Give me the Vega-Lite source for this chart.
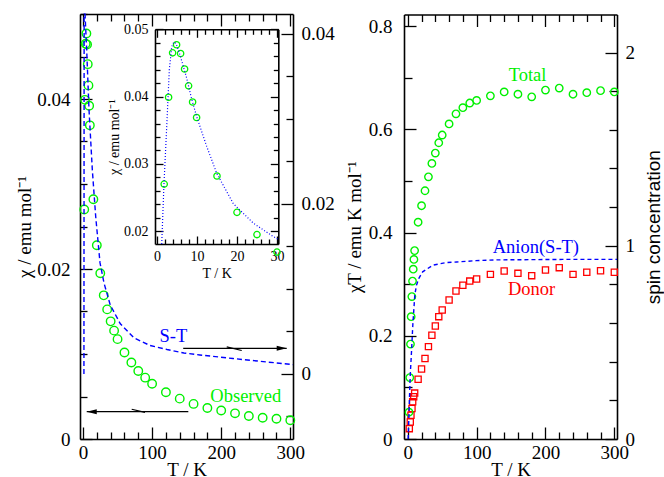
{
  "$schema": "https://vega.github.io/schema/vega-lite/v6.json",
  "width": 664,
  "height": 477,
  "autosize": "none",
  "padding": 0,
  "background": "white",
  "config": {
    "view": {"stroke": null},
    "axis": {
      "domainColor": "black", "domainWidth": 1.6, "tickColor": "black", "tickWidth": 1.3,
      "grid": false, "labelFont": "Liberation Serif", "labelFontSize": 19, "labelColor": "black",
      "titleFont": "Liberation Serif", "titleFontSize": 19, "titleFontWeight": "normal", "titleColor": "black",
      "labelFlush": false, "labelOverlap": false, "labelBound": false
    }
  },
  "datasets": {
    "obs": [
      {"T": 1.8, "v": 0.0270}, {"T": 2.9, "v": 0.0399}, {"T": 3.9, "v": 0.0465}, {"T": 4.9, "v": 0.0477},
      {"T": 5.9, "v": 0.0464}, {"T": 6.9, "v": 0.0441}, {"T": 7.9, "v": 0.0416}, {"T": 8.9, "v": 0.0392},
      {"T": 9.9, "v": 0.0369}, {"T": 15, "v": 0.0282}, {"T": 20, "v": 0.0228}, {"T": 25, "v": 0.0195},
      {"T": 30, "v": 0.0169}, {"T": 35, "v": 0.01525}, {"T": 40, "v": 0.01384}, {"T": 45, "v": 0.01275},
      {"T": 50, "v": 0.01175}, {"T": 60, "v": 0.01017}, {"T": 70, "v": 0.0090}, {"T": 80, "v": 0.0080},
      {"T": 90, "v": 0.00722}, {"T": 100, "v": 0.0065}, {"T": 120, "v": 0.0055}, {"T": 140, "v": 0.00475},
      {"T": 160, "v": 0.00413}, {"T": 180, "v": 0.00365}, {"T": 200, "v": 0.00335}, {"T": 220, "v": 0.00302},
      {"T": 240, "v": 0.0027}, {"T": 260, "v": 0.0025}, {"T": 280, "v": 0.00238}, {"T": 300, "v": 0.0022}
    ],
    "st": [
      {"seg": "a", "T": 1.35, "v": 0.0}, {"seg": "a", "T": 1.5, "v": 0.02}, {"seg": "a", "T": 1.65, "v": 0.0424},
      {"seg": "b", "T": 2.9, "v": 0.0424}, {"seg": "b", "T": 5.35, "v": 0.0381}, {"seg": "b", "T": 8.7, "v": 0.0311},
      {"seg": "b", "T": 13.5, "v": 0.0240}, {"seg": "b", "T": 18.4, "v": 0.0185}, {"seg": "b", "T": 24.6, "v": 0.0131},
      {"seg": "b", "T": 30.4, "v": 0.0107}, {"seg": "b", "T": 39.5, "v": 0.0081}, {"seg": "b", "T": 54, "v": 0.0059},
      {"seg": "b", "T": 73.8, "v": 0.00424}, {"seg": "b", "T": 97, "v": 0.00335}, {"seg": "b", "T": 121.6, "v": 0.00288},
      {"seg": "b", "T": 146, "v": 0.00247}, {"seg": "b", "T": 169, "v": 0.00224}, {"seg": "b", "T": 217, "v": 0.00182},
      {"seg": "b", "T": 266, "v": 0.00141}, {"seg": "b", "T": 299.6, "v": 0.00114}, {"seg": "b", "T": 303.9, "v": 0.0011}
    ],
    "fit": [
      {"T": 1.18, "v": 0.0181}, {"T": 1.75, "v": 0.0271}, {"T": 2.43, "v": 0.0355}, {"T": 3.08, "v": 0.0440},
      {"T": 3.68, "v": 0.0474}, {"T": 4.2, "v": 0.0481}, {"T": 4.75, "v": 0.0479}, {"T": 5.75, "v": 0.0462},
      {"T": 7.4, "v": 0.0428}, {"T": 8.6, "v": 0.0398}, {"T": 9.93, "v": 0.0370}, {"T": 12.43, "v": 0.0326},
      {"T": 14.93, "v": 0.0286}, {"T": 19.08, "v": 0.0241}, {"T": 24.08, "v": 0.0212}, {"T": 29.08, "v": 0.0192},
      {"T": 30.3, "v": 0.0188}
    ],
    "total": [
      {"T": 1.8, "v": 0.052}, {"T": 2.9, "v": 0.119}, {"T": 3.9, "v": 0.184}, {"T": 4.9, "v": 0.237},
      {"T": 5.9, "v": 0.276}, {"T": 6.9, "v": 0.306}, {"T": 7.9, "v": 0.329}, {"T": 8.9, "v": 0.348},
      {"T": 9.9, "v": 0.365}, {"T": 15, "v": 0.420}, {"T": 20, "v": 0.452}, {"T": 25, "v": 0.481},
      {"T": 30, "v": 0.508}, {"T": 35, "v": 0.534}, {"T": 40, "v": 0.554}, {"T": 45, "v": 0.574},
      {"T": 50, "v": 0.589}, {"T": 60, "v": 0.6105}, {"T": 70, "v": 0.630}, {"T": 80, "v": 0.642},
      {"T": 90, "v": 0.651}, {"T": 100, "v": 0.656}, {"T": 120, "v": 0.665}, {"T": 140, "v": 0.6725},
      {"T": 160, "v": 0.668}, {"T": 180, "v": 0.663}, {"T": 200, "v": 0.676}, {"T": 220, "v": 0.680},
      {"T": 240, "v": 0.668}, {"T": 260, "v": 0.671}, {"T": 280, "v": 0.675}, {"T": 300, "v": 0.6725}
    ],
    "donor": [
      {"T": 2.2, "v": 0.020}, {"T": 3.6, "v": 0.033}, {"T": 4.6, "v": 0.046}, {"T": 6.1, "v": 0.059},
      {"T": 7.1, "v": 0.072}, {"T": 8.6, "v": 0.082}, {"T": 10.0, "v": 0.089}, {"T": 15, "v": 0.1157},
      {"T": 20, "v": 0.1357}, {"T": 25, "v": 0.156}, {"T": 30, "v": 0.179}, {"T": 35, "v": 0.201},
      {"T": 40, "v": 0.219}, {"T": 45, "v": 0.237}, {"T": 50, "v": 0.250}, {"T": 60, "v": 0.2694},
      {"T": 70, "v": 0.2868}, {"T": 80, "v": 0.298}, {"T": 90, "v": 0.306}, {"T": 100, "v": 0.310},
      {"T": 120, "v": 0.319}, {"T": 140, "v": 0.3256}, {"T": 160, "v": 0.321}, {"T": 180, "v": 0.3165},
      {"T": 200, "v": 0.3275}, {"T": 220, "v": 0.332}, {"T": 240, "v": 0.319}, {"T": 260, "v": 0.323},
      {"T": 280, "v": 0.326}, {"T": 300, "v": 0.323}
    ],
    "anion": [
      {"T": 0.5, "v": 0.0}, {"T": 1.5, "v": 0.1}, {"T": 2.5, "v": 0.22}, {"T": 3.7, "v": 0.34},
      {"T": 5.1, "v": 0.43}, {"T": 7.3, "v": 0.59}, {"T": 10.2, "v": 0.745}, {"T": 12.6, "v": 0.796},
      {"T": 16.3, "v": 0.833}, {"T": 21.6, "v": 0.865}, {"T": 27.5, "v": 0.879}, {"T": 36.6, "v": 0.900},
      {"T": 55.5, "v": 0.913}, {"T": 71, "v": 0.916}, {"T": 99, "v": 0.923}, {"T": 129, "v": 0.927},
      {"T": 225, "v": 0.9295}, {"T": 303.9, "v": 0.9295}
    ]
  },
  "layer": [
    {
      "encoding": {
        "x": {"field": "T", "type": "quantitative",
          "scale": {"domain": [-4.34, 303.9], "range": [80, 293], "nice": false, "zero": false},
          "axis": {"orient": "bottom", "offset": -38,
            "values": [0,20,40,60,80,100,120,140,160,180,200,220,240,260,280,300],
            "labelExpr": "datum.value % 100 === 0 ? format(datum.value, 'd') : ''",
            "tickSize": {"condition": {"test": "datum.value % 100 === 0", "value": -12}, "value": -7},
            "labelPadding": 16, "title": "T / K", "titlePadding": -7}},
        "y": {"field": "v", "type": "quantitative",
          "scale": {"domain": [0, 0.05], "range": [439, 14], "nice": false, "zero": false},
          "axis": {"orient": "left", "offset": -80,
            "values": [0,0.005,0.01,0.015,0.02,0.025,0.03,0.035,0.04,0.045,0.05],
            "labelExpr": "abs(datum.value*50 - round(datum.value*50)) < 1e-6 ? (abs(datum.value) < 1e-9 ? '0' : format(datum.value, '.2f')) : ''",
            "tickSize": {"condition": {"test": "abs(datum.value*50 - round(datum.value*50)) < 1e-6", "value": -12}, "value": -7},
            "labelPadding": 22, "title": "χ / emu mol⁻¹", "titlePadding": 2}}
      },
      "layer": [
        {"data": {"name": "obs"}, "mark": {"type": "point", "shape": "circle", "filled": false, "size": 72, "color": "#00f000", "strokeWidth": 1.4, "opacity": 1}},
        {"data": {"values": [{"T": 235.6, "v": 0.00439, "label": "Observed"}]},
          "mark": {"type": "text", "font": "Liberation Serif", "fontSize": 18.5, "color": "#00f000", "align": "center", "baseline": "alphabetic"},
          "encoding": {"text": {"field": "label"}}},
        {"data": {"values": [{"T": 5.4, "v": 0.00321, "T2": 152.4, "v2": 0.00321}, {"T": 70.5, "v": 0.0035, "T2": 89.7, "v2": 0.00314}]},
          "mark": {"type": "rule", "color": "black", "strokeWidth": 1.2},
          "encoding": {"x2": {"field": "T2"}, "y2": {"field": "v2"}}},
        {"data": {"values": [{"T": 5.4, "v": 0.00321}]},
          "mark": {"type": "point", "shape": "M0,0L2,-0.5L2,0.5Z", "filled": true, "color": "black", "size": 100, "opacity": 1}}
      ]
    },
    {
      "encoding": {
        "x": {"field": "T", "type": "quantitative",
          "scale": {"domain": [-4.34, 303.9], "range": [80, 293], "nice": false, "zero": false},
          "axis": {"orient": "top", "offset": -14, "labels": false,
            "values": [0,20,40,60,80,100,120,140,160,180,200,220,240,260,280,300],
            "tickSize": {"condition": {"test": "datum.value % 100 === 0", "value": -12}, "value": -7},
            "title": null}},
        "y": {"field": "v", "type": "quantitative",
          "scale": {"domain": [-0.00765, 0.04235], "range": [439, 14], "nice": false, "zero": false},
          "axis": {"orient": "right", "offset": -371,
            "values": [-0.005,0,0.005,0.01,0.015,0.02,0.025,0.03,0.035,0.04],
            "labelExpr": "abs(datum.value*50 - round(datum.value*50)) < 1e-6 ? (abs(datum.value) < 1e-9 ? '0' : format(datum.value, '.2f')) : ''",
            "tickSize": {"condition": {"test": "abs(datum.value*50 - round(datum.value*50)) < 1e-6", "value": -12}, "value": -7},
            "labelPadding": 20, "title": null}}
      },
      "layer": [
        {"data": {"name": "st"}, "mark": {"type": "line", "color": "#0000ff", "strokeWidth": 1.4, "strokeDash": [5, 3]},
          "encoding": {"detail": {"field": "seg"}}},
        {"data": {"values": [{"T": 130.7, "v": 0.0038, "label": "S-T"}]},
          "mark": {"type": "text", "font": "Liberation Serif", "fontSize": 18.5, "color": "#0000ff", "align": "center", "baseline": "alphabetic"},
          "encoding": {"text": {"field": "label"}}},
        {"data": {"values": [{"T": 145, "v": 0.00302, "T2": 294.8, "v2": 0.00302}, {"T": 208, "v": 0.00318, "T2": 229.7, "v2": 0.00276}]},
          "mark": {"type": "rule", "color": "black", "strokeWidth": 1.2},
          "encoding": {"x2": {"field": "T2"}, "y2": {"field": "v2"}}},
        {"data": {"values": [{"T": 294.8, "v": 0.00302}]},
          "mark": {"type": "point", "shape": "M0,0L-2,-0.5L-2,0.5Z", "filled": true, "color": "black", "size": 100, "opacity": 1}}
      ]
    },
    {
      "data": {"name": "obs"},
      "transform": [{"filter": "datum.T <= 30"}],
      "mark": {"type": "point", "shape": "circle", "filled": false, "size": 40, "color": "#00f000", "strokeWidth": 1.3, "opacity": 1},
      "encoding": {
        "x": {"field": "T", "type": "quantitative",
          "scale": {"domain": [-0.5, 30.33], "range": [155, 278.3], "nice": false, "zero": false},
          "axis": {"orient": "bottom", "offset": -233,
            "values": [0,2,4,6,8,10,12,14,16,18,20,22,24,26,28,30],
            "labelExpr": "datum.value % 10 === 0 ? format(datum.value, 'd') : ''",
            "tickSize": {"condition": {"test": "datum.value % 10 === 0", "value": -8}, "value": -5},
            "labelPadding": 13, "labelFontSize": 14, "title": "T  /  K", "titleFontSize": 14, "titlePadding": 0}},
        "y": {"field": "v", "type": "quantitative",
          "scale": {"domain": [0.0181, 0.05], "range": [244, 29.3], "nice": false, "zero": false},
          "axis": {"orient": "left", "offset": -155,
            "values": [0.02,0.022,0.024,0.026,0.028,0.03,0.032,0.034,0.036,0.038,0.04,0.042,0.044,0.046,0.048,0.05],
            "labelExpr": "abs(datum.value*100 - round(datum.value*100)) < 1e-6 ? format(datum.value, '.2f') : ''",
            "tickSize": {"condition": {"test": "abs(datum.value*100 - round(datum.value*100)) < 1e-6", "value": -8}, "value": -5},
            "labelPadding": 15, "labelFontSize": 14, "title": "χ / emu mol⁻¹", "titleFontSize": 14, "titlePadding": 2}}
      }
    },
    {
      "data": {"name": "fit"},
      "mark": {"type": "line", "color": "#0000ff", "strokeWidth": 1.2, "strokeDash": [1, 2]},
      "encoding": {
        "x": {"field": "T", "type": "quantitative",
          "scale": {"domain": [-0.5, 30.33], "range": [155, 278.3], "nice": false, "zero": false},
          "axis": {"orient": "top", "offset": -29.3, "labels": false,
            "values": [0,2,4,6,8,10,12,14,16,18,20,22,24,26,28,30],
            "tickSize": {"condition": {"test": "datum.value % 10 === 0", "value": -8}, "value": -5},
            "title": null}},
        "y": {"field": "v", "type": "quantitative",
          "scale": {"domain": [0.0181, 0.05], "range": [244, 29.3], "nice": false, "zero": false},
          "axis": {"orient": "right", "offset": -385.7, "labels": false,
            "values": [0.02,0.022,0.024,0.026,0.028,0.03,0.032,0.034,0.036,0.038,0.04,0.042,0.044,0.046,0.048,0.05],
            "tickSize": {"condition": {"test": "abs(datum.value*100 - round(datum.value*100)) < 1e-6", "value": -8}, "value": -5},
            "title": null}}
      }
    },
    {
      "encoding": {
        "x": {"field": "T", "type": "quantitative",
          "scale": {"domain": [-5.5, 303.9], "range": [404, 617], "nice": false, "zero": false},
          "axis": {"orient": "bottom", "offset": -38,
            "values": [0,20,40,60,80,100,120,140,160,180,200,220,240,260,280,300],
            "labelExpr": "datum.value % 100 === 0 ? format(datum.value, 'd') : ''",
            "tickSize": {"condition": {"test": "datum.value % 100 === 0", "value": -12}, "value": -7},
            "labelPadding": 16, "title": "T / K", "titlePadding": -7}},
        "y": {"field": "v", "type": "quantitative",
          "scale": {"domain": [0, 0.8225], "range": [439, 14.5], "nice": false, "zero": false},
          "axis": {"orient": "left", "offset": -404,
            "values": [0,0.1,0.2,0.3,0.4,0.5,0.6,0.7,0.8],
            "labelExpr": "abs(datum.value*5 - round(datum.value*5)) < 1e-6 ? (datum.value < 1e-9 ? '0' : format(datum.value, '.1f')) : ''",
            "tickSize": {"condition": {"test": "abs(datum.value*5 - round(datum.value*5)) < 1e-6", "value": -12}, "value": -8},
            "labelPadding": 24, "title": "χT / emu K mol⁻¹", "titlePadding": 4}}
      },
      "layer": [
        {"data": {"name": "donor"}, "mark": {"type": "point", "shape": "square", "filled": false, "size": 38, "color": "#ff0000", "strokeWidth": 1.3, "opacity": 1}},
        {"data": {"name": "total"}, "mark": {"type": "point", "shape": "circle", "filled": false, "size": 55, "color": "#00f000", "strokeWidth": 1.4, "opacity": 1}},
        {"data": {"values": [{"T": 173.9, "v": 0.6944, "label": "Total"}]},
          "mark": {"type": "text", "font": "Liberation Serif", "fontSize": 18.5, "color": "#00f000", "align": "center", "baseline": "alphabetic"},
          "encoding": {"text": {"field": "label"}}},
        {"data": {"values": [{"T": 179.9, "v": 0.279, "label": "Donor"}]},
          "mark": {"type": "text", "font": "Liberation Serif", "fontSize": 18.5, "color": "#ff0000", "align": "center", "baseline": "alphabetic"},
          "encoding": {"text": {"field": "label"}}}
      ]
    },
    {
      "encoding": {
        "x": {"field": "T", "type": "quantitative",
          "scale": {"domain": [-5.5, 303.9], "range": [404, 617], "nice": false, "zero": false},
          "axis": {"orient": "top", "offset": -14.5, "labels": false,
            "values": [0,20,40,60,80,100,120,140,160,180,200,220,240,260,280,300],
            "tickSize": {"condition": {"test": "datum.value % 100 === 0", "value": -12}, "value": -7},
            "title": null}},
        "y": {"field": "v", "type": "quantitative",
          "scale": {"domain": [0, 2.197], "range": [439, 14.5], "nice": false, "zero": false},
          "axis": {"orient": "right", "offset": -47,
            "values": [0,0.2,0.4,0.6,0.8,1,1.2,1.4,1.6,1.8,2],
            "labelExpr": "abs(datum.value - round(datum.value)) < 1e-6 ? format(datum.value, 'd') : ''",
            "tickSize": {"condition": {"test": "abs(datum.value - round(datum.value)) < 1e-6", "value": -12}, "value": -8},
            "labelPadding": 20, "title": "spin  concentration", "titleFont": "Liberation Sans", "titleFontSize": 19,
            "titleAngle": -90, "titleBaseline": "top", "titlePadding": 10}}
      },
      "layer": [
        {"data": {"name": "anion"}, "mark": {"type": "line", "color": "#0000ff", "strokeWidth": 1.4, "strokeDash": [4, 3]}, "encoding": {}},
        {"data": {"values": [{"T": 186, "v": 0.961, "label": "Anion(S-T)"}]},
          "mark": {"type": "text", "font": "Liberation Serif", "fontSize": 18.5, "color": "#0000ff", "align": "center", "baseline": "alphabetic"},
          "encoding": {"text": {"field": "label"}}}
      ]
    }
  ],
  "resolve": {
    "scale": {"x": "independent", "y": "independent"},
    "axis": {"x": "independent", "y": "independent"}
  }
}
